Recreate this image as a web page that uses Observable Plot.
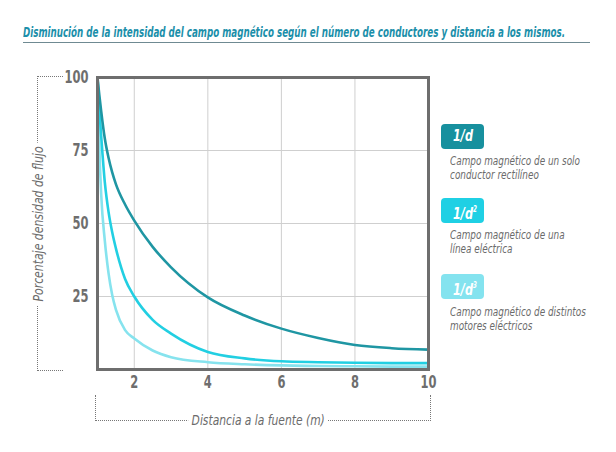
<!DOCTYPE html>
<html>
<head>
<meta charset="utf-8">
<script src="https://cdn.jsdelivr.net/npm/d3@7"></script>
<script src="https://cdn.jsdelivr.net/npm/@observablehq/plot@0.6"></script>
<style>
  html, body { margin: 0; padding: 0; background: #fff; }
  body { width: 616px; height: 452px; position: relative; overflow: hidden;
         font-family: "DejaVu Sans Condensed", "DejaVu Sans", sans-serif; font-stretch: condensed; }
  #chart { position: absolute; left: 0; top: 0; }
  .fit { position: absolute; white-space: nowrap; transform-origin: 0 50%; }
  .title { left: 23px; top: 25px; font-size: 13.5px; line-height: 14px; font-style: italic;
           color: #1b8faa; font-weight: bold; }
  .rule { position: absolute; left: 23px; top: 42px; width: 567px; height: 0; border-top: 1px solid #6f8a92; }
  .dot { position: absolute; border: 0 dotted #777; }
  .ylab { font-size: 14px; line-height: 14px; font-style: italic; color: #6b6b6b; background: #fff; }
  .xlab { font-size: 14px; line-height: 14px; font-style: italic; color: #6b6b6b; background: #fff; }
  .lbox { position: absolute; left: 441px; width: 43px; height: 25px; border-radius: 4px; }
  .lboxtext { color: #fff; font-style: italic; font-size: 16px; line-height: 16px; font-weight: bold; }
  .lboxtext sup { font-size: 8px; vertical-align: 7px; }
  .ltext { font-size: 11.5px; font-style: italic; color: #6b6b6b; line-height: 14px; }
</style>
</head>
<body>
<div id="chart"></div>
<div class="rule"></div>
<div class="dot" style="left:37px;top:76px;width:25px;height:293px;border-left-width:1px;border-top-width:1px;border-bottom-width:1px;"></div>
<div class="dot" style="left:95px;top:395px;width:334px;height:25px;border-left-width:1px;border-right-width:1px;border-bottom-width:1px;"></div>
<div id="texts"></div>

<script>
// Distances (m)
const distances = [1, 1.05, 1.1, 1.2, 1.3, 1.4, 1.5, 1.75, 2, 2.5, 3, 4, 5, 6, 7, 8, 9, 10];
// Series values (% flux density)
const seriesD1 = [100, 94, 88.5, 79, 72.5, 67.5, 63.5, 56.5, 51, 42, 35, 24.7, 18.5, 14, 10.8, 8.4, 7.3, 6.8];
const seriesD2 = [100, 89, 80, 64, 54, 47, 41.5, 31, 25, 17, 12.3, 6, 3.8, 2.8, 2.5, 2.3, 2.2, 2.2];
const seriesD3 = [100, 76, 60, 44, 33, 25.5, 20.5, 13.5, 10.6, 6.5, 4.2, 2.5, 1.8, 1.4, 1.2, 1.1, 1.0, 1.0];
const seriesNames = ["1/d", "1/d²", "1/d³"];
const seriesColors = ["#1f96a3", "#22cfe2", "#86e3ee"];
const boxColors = ["#17909e", "#1fd0e4", "#84e3ef"];
const descriptions = [
  ["Campo magnético de un solo", "conductor rectilíneo"],
  ["Campo magnético de una", "línea eléctrica"],
  ["Campo magnético de distintos", "motores eléctricos"]
];
const titleText = "Disminución de la intensidad del campo magnético según el número de conductores y distancia a los mismos.";
const yLabelText = "Porcentaje densidad de flujo";
const xLabelText = "Distancia a la fuente (m)";
const xTicks = [2, 4, 6, 8, 10];
const yTicks = [25, 50, 75, 100];
const xGrid = [2, 4, 6, 8];
const yGrid = [25, 50, 75];

const seriesValues = [seriesD1, seriesD2, seriesD3];
const rows = [];
seriesValues.forEach((vals, s) => {
  vals.forEach((v, i) => rows.push({d: distances[i], v, s: seriesNames[s]}));
});

const tickFont = '"DejaVu Sans Condensed", "DejaVu Sans", sans-serif';
const chart = Plot.plot({
  width: 616,
  height: 452,
  marginLeft: 97,
  marginRight: 188,
  marginTop: 77,
  marginBottom: 83,
  style: {fontFamily: tickFont, background: "transparent"},
  x: {domain: [1, 10]},
  y: {domain: [0, 100]},
  color: {domain: seriesNames, range: seriesColors},
  marks: [
    Plot.ruleX(xGrid, {stroke: "#cfcfcf", strokeWidth: 1}),
    Plot.ruleY(yGrid, {stroke: "#cfcfcf", strokeWidth: 1}),
    Plot.line(rows.filter(r => r.s === seriesNames[2]), {x: "d", y: "v", stroke: "s", strokeWidth: 2.6, curve: "monotone-x"}),
    Plot.line(rows.filter(r => r.s === seriesNames[1]), {x: "d", y: "v", stroke: "s", strokeWidth: 2.6, curve: "monotone-x"}),
    Plot.line(rows.filter(r => r.s === seriesNames[0]), {x: "d", y: "v", stroke: "s", strokeWidth: 2.6, curve: "monotone-x"}),
    Plot.frame({stroke: "#6e6e6e", strokeWidth: 3}),
    Plot.axisX({ticks: xTicks, tickSize: 0, tickPadding: 6, fontSize: 18, fill: "#6e6e6e", fontWeight: "bold", label: null, tickFormat: d => String(d)}),
    Plot.axisY({ticks: yTicks, tickSize: 0, tickPadding: 9, fontSize: 18, fill: "#6e6e6e", fontWeight: "bold", label: null, tickFormat: d => String(d)})
  ]
});
document.getElementById("chart").append(chart);

// Condense tick labels horizontally ("100" ≈ 24px wide in the reference)
const tickTexts = Array.from(chart.querySelectorAll('g[aria-label$="tick label"] text'));
const hundred = tickTexts.find(t => t.textContent === "100");
const tickScale = hundred ? Math.min(1, 24 / hundred.getBBox().width) : 0.7;
tickTexts.forEach(t => {
  const tr = t.getAttribute("transform");
  if (tr) {
    t.setAttribute("transform", tr + ` scale(${tickScale},1)`);
  } else {
    const x = +t.getAttribute("x") || 0, y = +t.getAttribute("y") || 0;
    t.setAttribute("transform", `translate(${x},${y}) scale(${tickScale},1)`);
    t.removeAttribute("x"); t.removeAttribute("y");
  }
});

// HTML texts fitted to the widths measured in the reference
const texts = document.getElementById("texts");
function addText(cls, html, opts) {
  const el = document.createElement("div");
  el.className = "fit " + cls;
  el.innerHTML = html;
  texts.append(el);
  const w = el.getBoundingClientRect().width;
  const h = el.getBoundingClientRect().height;
  const s = opts.scale != null ? opts.scale : opts.width / w;
  if (opts.rotate) {
    // center at (cx, cy), rotated -90
    el.style.left = (opts.cx - w / 2) + "px";
    el.style.top = (opts.cy - h / 2) + "px";
    el.style.transformOrigin = "50% 50%";
    el.style.transform = `rotate(-90deg) scale(${s},1)`;
  } else if (opts.cx != null) {
    el.style.left = (opts.cx - w / 2) + "px";
    el.style.top = (opts.cy - h / 2) + "px";
    el.style.transformOrigin = "50% 50%";
    el.style.transform = `scale(${s},1)`;
  } else {
    el.style.left = opts.left + "px";
    el.style.top = opts.top + "px";
    el.style.transform = `scale(${s},1)`;
  }
  return {el, w, s};
}

addText("title", titleText, {left: 23, top: 25, width: 542});
addText("ylab", "&nbsp;" + yLabelText + "&nbsp;", {rotate: true, cx: 37.5, cy: 224, width: 162});
addText("xlab", "&nbsp;" + xLabelText + "&nbsp;", {cx: 258, cy: 419.5, width: 140});

// Legend
const boxTops = [124, 198, 274];
const textTops = [154, 228, 305];
const boxHtml = ["1/d", "1/d<sup>2</sup>", "1/d<sup>3</sup>"];
// scale for legend descriptions from "Campo magnético de un solo" ≈ 130px
const probe = document.createElement("div");
probe.className = "fit ltext";
probe.textContent = descriptions[0][0];
texts.append(probe);
const legendScale = 130 / probe.getBoundingClientRect().width;
probe.remove();
const probe2 = document.createElement("div");
probe2.className = "fit lboxtext";
probe2.textContent = "1/d";
texts.append(probe2);
const boxScale = 20 / probe2.getBoundingClientRect().width;
probe2.remove();

seriesNames.forEach((name, i) => {
  const b = document.createElement("div");
  b.className = "lbox";
  b.style.top = boxTops[i] + "px";
  b.style.background = boxColors[i];
  texts.append(b);
  addText("lboxtext", boxHtml[i], {left: 453, top: boxTops[i] + 4, scale: boxScale});
  addText("ltext", descriptions[i].join("<br>"), {left: 450, top: textTops[i], scale: legendScale});
});
</script>
</body>
</html>
